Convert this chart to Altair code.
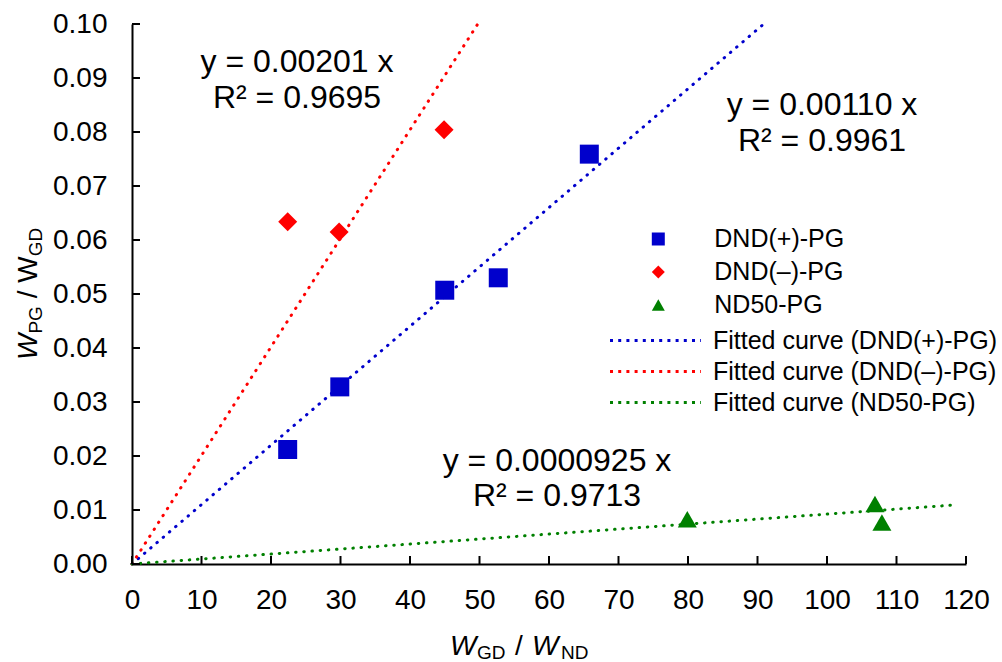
import altair as alt
import pandas as pd

# ---------------- data ----------------
series_names = ["DND(+)-PG", "DND(–)-PG", "ND50-PG"]
fit_names = ["Fitted curve (DND(+)-PG)", "Fitted curve (DND(–)-PG)", "Fitted curve (ND50-PG)"]
colors = ["#0000CC", "#FF0000", "#008000"]
shapes = ["square", "diamond", "triangle-up"]

pos_x = [22.4, 29.9, 45.0, 52.7, 65.8]
pos_y = [0.0212, 0.0328, 0.0507, 0.0530, 0.0759]
neg_x = [22.4, 29.8, 44.9]
neg_y = [0.0634, 0.0615, 0.0804]
nd_x = [79.9, 106.9, 107.9]
nd_y = [0.0083, 0.0111, 0.0077]

# fitted-line end points (y = a x), as drawn in the reference
fit_pos_x = [0, 90.9]
fit_pos_y = [0, 0.1]
fit_neg_x = [0, 49.75]
fit_neg_y = [0, 0.1]
fit_nd_x = [0, 118]
fit_nd_y = [0, 0.0109]

x_ticks = [0, 10, 20, 30, 40, 50, 60, 70, 80, 90, 100, 110, 120]
y_ticks = [0.00, 0.01, 0.02, 0.03, 0.04, 0.05, 0.06, 0.07, 0.08, 0.09, 0.10]

eq_neg = ["y = 0.00201 x", "R² = 0.9695"]
eq_pos = ["y = 0.00110 x", "R² = 0.9961"]
eq_nd = ["y = 0.0000925 x", "R² = 0.9713"]

# ---------------- chart ----------------
FONT = "Liberation Sans"
W, H = 834, 540

xscale = alt.Scale(domain=[0, 120], nice=False, zero=False)
yscale = alt.Scale(domain=[0, 0.1], nice=False, zero=False)

common_axis = dict(labelFont=FONT, labelFontSize=28, labelColor="black",
                   ticks=False, tickSize=0, grid=False, domainColor="black",
                   domainWidth=2, title=None, labelFlush=False, labelOverlap=False)
x_axis = alt.Axis(values=x_ticks, format="d", labelPadding=22, **common_axis)
y_axis = alt.Axis(values=y_ticks, format=".2f", labelPadding=25, **common_axis)

leg1 = alt.Legend(title=None, orient="none", legendX=513.8, legendY=202.5,
                  direction="vertical", symbolSize=169, symbolStrokeWidth=0,
                  labelFont=FONT, labelFontSize=25, labelColor="black",
                  labelOffset=43.5, labelLimit=400, rowPadding=7, padding=0)
leg2 = alt.Legend(title=None, orient="none", legendX=476.5, legendY=304,
                  direction="vertical", symbolType="stroke", symbolSize=8281,
                  symbolStrokeWidth=3, symbolDash=[3, 5.2], clipHeight=25,
                  labelFont=FONT, labelFontSize=25, labelColor="black",
                  labelOffset=10.5, labelLimit=400, rowPadding=5, padding=0)

pts = pd.DataFrame({
    "series": [series_names[0]] * len(pos_x) + [series_names[1]] * len(neg_x)
    + [series_names[2]] * len(nd_x),
    "x": pos_x + neg_x + nd_x,
    "y": pos_y + neg_y + nd_y,
})
points = alt.Chart(pts).mark_point(filled=True, opacity=1, size=361).encode(
    x=alt.X("x:Q", scale=xscale, axis=x_axis),
    y=alt.Y("y:Q", scale=yscale, axis=y_axis),
    color=alt.Color("series:N", scale=alt.Scale(domain=series_names, range=colors),
                    legend=leg1),
    shape=alt.Shape("series:N", scale=alt.Scale(domain=series_names, range=shapes),
                    legend=leg1),
)

fits = pd.DataFrame({
    "fit": [fit_names[0]] * 2 + [fit_names[1]] * 2 + [fit_names[2]] * 2,
    "x": fit_pos_x + fit_neg_x + fit_nd_x,
    "y": fit_pos_y + fit_neg_y + fit_nd_y,
})
lines = alt.Chart(fits).mark_line(strokeWidth=3, strokeDash=[0.5, 7.7],
                                  strokeCap="round").encode(
    x=alt.X("x:Q", scale=xscale, axis=x_axis),
    y=alt.Y("y:Q", scale=yscale, axis=y_axis),
    color=alt.Color("fit:N", scale=alt.Scale(domain=fit_names, range=colors),
                    legend=leg2),
)

xt = alt.Chart(pd.DataFrame({"x": x_ticks})).mark_rule(color="black", strokeWidth=2).encode(
    x=alt.X("x:Q", scale=xscale, axis=x_axis),
    y=alt.value(H), y2=alt.value(H - 8),
)
yt = alt.Chart(pd.DataFrame({"y": y_ticks})).mark_rule(color="black", strokeWidth=2).encode(
    y=alt.Y("y:Q", scale=yscale, axis=y_axis),
    x=alt.value(0), x2=alt.value(8),
)

one = pd.DataFrame({"k": [0]})


def txt(s, x, y, size, italic=False, angle=0, align="left"):
    kw = dict(text=s, font=FONT, fontSize=size, align=align, baseline="alphabetic",
              color="black", fontStyle="italic" if italic else "normal")
    if angle:
        kw["angle"] = angle
    return alt.Chart(one).mark_text(**kw).encode(x=alt.value(x), y=alt.value(y))


texts = [
    txt(eq_neg[0], 165, 48, 32, align="center"),
    txt(eq_neg[1], 165, 84, 32, align="center"),
    txt(eq_pos[0], 690, 91, 32, align="center"),
    txt(eq_pos[1], 690, 127, 32, align="center"),
    txt(eq_nd[0], 425, 447, 32, align="center"),
    txt(eq_nd[1], 425, 482, 32, align="center"),
    # x-axis title: W_GD / W_ND
    txt("W", 318, 631, 28, italic=True),
    txt("GD", 345, 635, 19),
    txt("/", 383, 631, 28),
    txt("W", 400, 631, 28, italic=True),
    txt("ND", 429, 635, 19),
    # y-axis title: W_PG / W_GD (reads bottom to top)
    txt("W", -95, 336, 28, italic=True, angle=270),
    txt("PG", -90, 309.6, 19, angle=270),
    txt("/", -95, 274.3, 28, angle=270),
    txt("W", -95, 258.7, 28, angle=270),
    txt("GD", -90, 232.3, 19, angle=270),
]

chart = alt.layer(points, lines, xt, yt, *texts).resolve_scale(
    color="independent", shape="independent"
).properties(
    width=W, height=H,
    padding={"left": 132, "top": 24, "right": 36, "bottom": 98},
    autosize=alt.AutoSizeParams(type="none"),
).configure_view(stroke=None)

chart.save("out.html", embed_options={"renderer": "svg", "actions": False})
